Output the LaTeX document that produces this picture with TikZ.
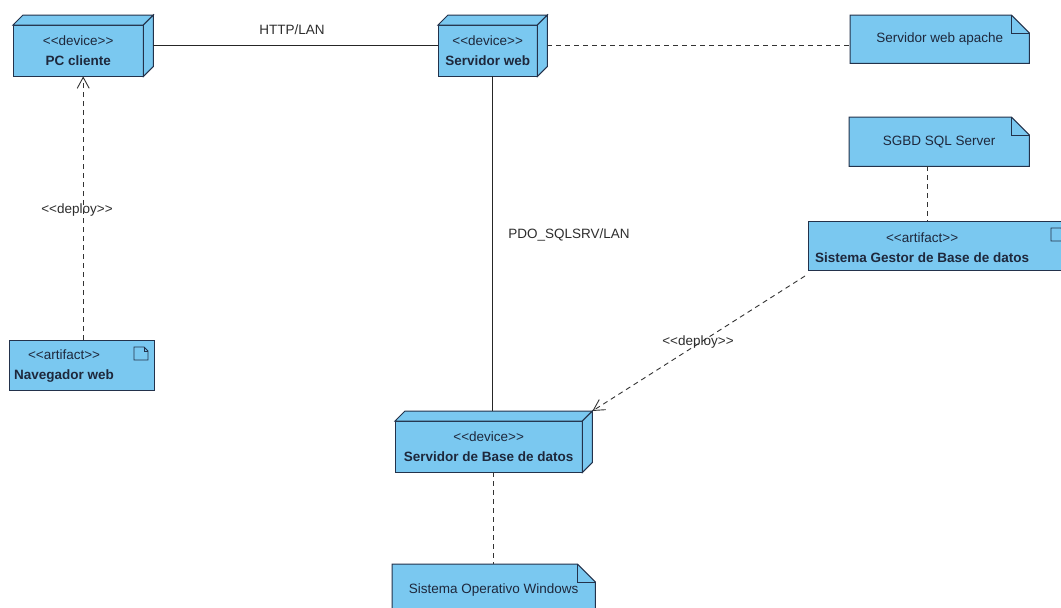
\documentclass[tikz,border=0pt]{standalone}
\usepackage{fontspec}
\setmainfont{Liberation Sans}
\usetikzlibrary{arrows.meta}
\definecolor{nodefill}{RGB}{122,200,240}
\definecolor{edgecol}{RGB}{35,50,75}
\definecolor{txtcol}{RGB}{30,40,60}
\definecolor{lblcol}{RGB}{45,45,45}
\newcommand\stereo[1]{<\kern0pt<#1>\kern0pt>}
\tikzset{
  face/.style={fill=nodefill, draw=edgecol, line width=1pt, line join=miter},
  holder/.style n args={2}{minimum width=#1, minimum height=#2, inner sep=0pt, anchor=north west, draw=none},
  dtext/.style={align=center, text=txtcol, inner sep=0pt, font=\fontsize{13.5}{20}\selectfont},
  lbl/.style={text=lblcol, inner sep=0pt, font=\fontsize{13.5}{15}\selectfont},
  assoc/.style={draw=black!85, line width=0.9pt},
  dashln/.style={draw=black!80, line width=0.9pt, dash pattern=on 5pt off 4pt},
  deparrow/.style={dashln, -{Straight Barb[length=11pt, width=12pt, line width=0.9pt]}},
}
\newcommand\devfaces[1]{%
  \draw[face] (#1.south west) rectangle ([shift={(-10,10)}]#1.north east);
  \draw[face] ([yshift=-10pt]#1.north west) -- ([xshift=10pt]#1.north west) -- (#1.north east) -- ([shift={(-10,10)}]#1.north east) -- cycle;
  \draw[face] ([shift={(-10,10)}]#1.north east) -- (#1.north east) -- ([yshift=10pt]#1.south east) -- ([xshift=-10pt]#1.south east) -- cycle;
}
\newcommand\notefaces[1]{%
  \draw[face] (#1.north west) -- ([xshift=-18pt]#1.north east) -- ([yshift=-18pt]#1.north east) -- (#1.south east) -- (#1.south west) -- cycle;
  \draw[draw=edgecol, line width=1pt] ([xshift=-18pt]#1.north east) |- ([yshift=-18pt]#1.north east);
}
\newcommand\docicon[1]{%
  \begin{scope}[shift={([shift={(-21,7)}]#1.north east)}]
    \draw[draw=edgecol, line width=0.9pt, fill=nodefill] (0,0) -- (10,0) -- (14,4) -- (14,13) -- (0,13) -- cycle;
    \draw[draw=edgecol, line width=0.9pt] (10,0) -- (10,4) -- (14,4);
  \end{scope}
}
\begin{document}
\begin{tikzpicture}[x=1pt, y=-1pt]
\useasboundingbox[fill=white] (0,0) rectangle (1061,608);

% devices
\node[holder={140pt}{61pt}] (pc) at (13,15) {};
\devfaces{pc}
\node[dtext] (pc-t) at ([shift={(-5,5)}]pc.center) {\stereo{device}\\\textbf{PC cliente}};

\node[holder={109pt}{61pt}] (sweb) at (438,15) {};
\devfaces{sweb}
\node[dtext] (sweb-t) at ([shift={(-5,5)}]sweb.center) {\stereo{device}\\\textbf{Servidor web}};

\node[holder={197pt}{61pt}] (sbd) at (395,411) {};
\devfaces{sbd}
\node[dtext] (sbd-t) at ([shift={(-5,5)}]sbd.center) {\stereo{device}\\\textbf{Servidor de Base de datos}};

% artifacts
\node[holder={145pt}{50pt}, face] (nav) at (9,340) {};
\docicon{nav}
\node[dtext, anchor=west] (nav-t) at ([shift={(5,1)}]nav.west) {\stereo{artifact}\\\textbf{Navegador web}};

\node[holder={263pt}{49pt}, face] (gestor) at (808,221) {};
\docicon{gestor}
\node[dtext, anchor=west] (gestor-t) at ([shift={(7,2)}]gestor.west) {\stereo{artifact}\\\textbf{Sistema Gestor de Base de datos}};

% notes
\node[holder={179pt}{48pt}] (apache) at (850,15) {};
\notefaces{apache}
\node[dtext] (apache-t) at (apache.center) {Servidor web apache};

\node[holder={180pt}{49pt}] (sgbd) at (849,117) {};
\notefaces{sgbd}
\node[dtext] (sgbd-t) at (sgbd.center) {SGBD SQL Server};

\node[holder={203pt}{56pt}] (win) at (392,564) {};
\notefaces{win}
\node[dtext] (win-t) at ([yshift=-26pt]win.north) {Sistema Operativo Windows};

% connectors
\draw[assoc] (pc.east) -- (sweb.west);
\node[lbl] (http) at (292,30) {HTTP/LAN};
\draw[assoc] (sweb.south) -- (sweb.south |- sbd.north);
\node[lbl] (pdo) at (569,235) {PDO\_SQLSRV/LAN};
\draw[dashln] (sweb.east) -- (apache.west |- sweb.east);
\draw[dashln] (sbd.south) -- (sbd.south |- win.north);
\draw[dashln] ([xshift=-12pt]sgbd.south) -- ([xshift=-12pt]sgbd.south |- gestor.north);
\draw[deparrow] (nav.north -| pc.south) -- (pc.south);
\node[lbl] (dep1) at (77,210) {\stereo{deploy}};
\coordinate (gstart) at ([shift={(-3,5)}]gestor.south west);
\draw[deparrow] (gstart) -- (sbd.north east);
\node[lbl] (dep2) at (698,342) {\stereo{deploy}};
\end{tikzpicture}
\end{document}
